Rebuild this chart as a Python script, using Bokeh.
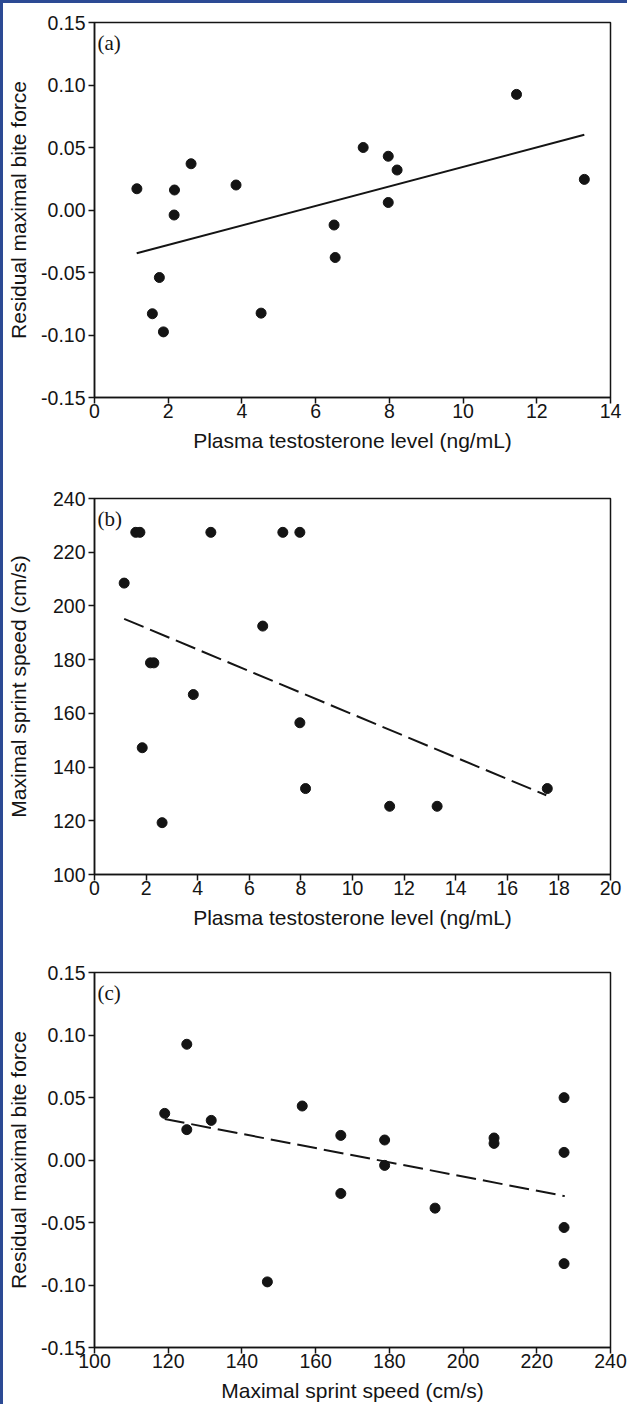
from bokeh.plotting import figure
from bokeh.models import Range1d, FixedTicker, PrintfTickFormatter, Label, Div
from bokeh.layouts import column, row
from bokeh.embed import file_html
from bokeh.resources import INLINE

# ---------------- data ----------------
# (a) residual bite force vs plasma testosterone
testo_a = [1.15, 2.17, 2.62, 3.84, 2.16, 1.76, 1.57, 1.87, 4.52, 6.50, 6.53,
           7.97, 8.21, 7.97, 11.45, 13.29, 7.29]
bite_a = [0.017, 0.016, 0.037, 0.020, -0.004, -0.054, -0.083, -0.0975, -0.0825,
          -0.012, -0.038, 0.043, 0.032, 0.006, 0.0925, 0.0245, 0.050]
fit_a_x = [1.145, 13.29]
fit_a_y = [-0.0346, 0.0602]

# (b) sprint speed vs plasma testosterone
testo_b = [1.60, 1.76, 4.51, 7.30, 7.96, 1.15, 6.52, 2.17, 2.30, 3.83, 7.96,
           1.85, 8.18, 11.44, 13.28, 2.62, 17.55]
speed_b = [227.4, 227.4, 227.4, 227.4, 227.4, 208.5, 192.5, 178.8, 178.8, 167.0,
           156.5, 147.2, 132.0, 125.4, 125.4, 119.3, 132.0]
fit_b_x = [1.15, 17.51]
fit_b_y = [195.2, 129.5]

# (c) residual bite force vs sprint speed
speed_c = [119.05, 125.04, 125.04, 131.67, 156.36, 166.83, 166.83, 178.72, 178.72,
           146.9, 192.4, 208.4, 208.4, 227.4, 227.4, 227.4, 227.4]
bite_c = [0.0373, 0.0926, 0.0243, 0.0317, 0.0432, 0.0197, -0.0268, 0.0160, -0.0043,
          -0.0975, -0.0385, 0.0176, 0.0133, 0.0499, 0.0061, -0.054, -0.0829]
fit_c_x = [119.05, 227.6]
fit_c_y = [0.0328, -0.0289]

# ticks
ticks_testo_a = [0, 2, 4, 6, 8, 10, 12, 14]
ticks_testo_b = [0, 2, 4, 6, 8, 10, 12, 14, 16, 18, 20]
ticks_speed_x = [100, 120, 140, 160, 180, 200, 220, 240]
ticks_speed_y = [100, 120, 140, 160, 180, 200, 220, 240]
ticks_bite = [-0.15, -0.10, -0.05, 0.0, 0.05, 0.10, 0.15]

xlab_testo = "Plasma testosterone level (ng/mL)"
xlab_speed = "Maximal sprint speed (cm/s)"
ylab_bite = "Residual maximal bite force"
ylab_speed = "Maximal sprint speed (cm/s)"

INK = "#141414"
BLUE = "#2c4a94"
FIG_W = 624


def make_panel(xs, ys, fx, fy, dash, xrange, yrange, xticks, yticks, xlab, ylab,
               tag, height, btop, bbot, yfmt=None, ylab_standoff=10):
    p = figure(width=FIG_W, height=height, output_backend="svg", toolbar_location=None,
               x_range=Range1d(*xrange), y_range=Range1d(*yrange),
               min_border_left=86, min_border_right=17,
               min_border_top=btop, min_border_bottom=bbot)
    p.background_fill_color = "white"
    p.border_fill_color = "white"
    p.outline_line_color = INK
    p.outline_line_width = 1.5
    p.xgrid.visible = False
    p.ygrid.visible = False
    p.xaxis.ticker = FixedTicker(ticks=xticks)
    p.yaxis.ticker = FixedTicker(ticks=yticks)
    if yfmt:
        p.yaxis.formatter = PrintfTickFormatter(format=yfmt)
    for ax in p.axis:
        ax.axis_line_color = INK
        ax.axis_line_width = 1.5
        ax.major_tick_line_color = INK
        ax.major_tick_line_width = 1.5
        ax.major_tick_in = 0
        ax.major_tick_out = 6
        ax.minor_tick_line_color = None
        ax.major_label_text_font = "Liberation Sans"
        ax.major_label_text_font_size = "19.5px"
        ax.major_label_text_color = INK
        ax.axis_label_text_font = "Liberation Sans"
        ax.axis_label_text_font_size = "21px"
        ax.axis_label_text_font_style = "normal"
        ax.axis_label_text_color = INK
    p.xaxis.axis_label = xlab
    p.yaxis.axis_label = ylab
    p.xaxis.major_label_standoff = 0
    p.xaxis.axis_label_standoff = 8
    p.yaxis.major_label_standoff = 3
    p.yaxis.axis_label_standoff = ylab_standoff

    p.line(fx, fy, line_width=2, line_color=INK, line_dash=dash)
    p.scatter(xs, ys, size=10, fill_color=INK, line_color=INK)

    p.add_layout(Label(x=xrange[0], y=yrange[1], text=tag, x_offset=3, y_offset=-8,
                       text_baseline="top", text_align="left",
                       text_font="Liberation Serif", text_font_size="21px",
                       text_color=INK))
    return p


pa = make_panel(testo_a, bite_a, fit_a_x, fit_a_y, "solid", (0, 14), (-0.15, 0.15),
                ticks_testo_a, ticks_bite, xlab_testo, ylab_bite, "(a)",
                476, 19, 82, yfmt="%.2f", ylab_standoff=8)
pb = make_panel(testo_b, speed_b, fit_b_x, fit_b_y, "21 7", (0, 20), (100, 240),
                ticks_testo_b, ticks_speed_y, xlab_testo, ylab_speed, "(b)",
                475, 19, 80, ylab_standoff=20)
pc = make_panel(speed_c, bite_c, fit_c_x, fit_c_y, "20 7", (100, 240), (-0.15, 0.15),
                ticks_speed_x, ticks_bite, xlab_speed, ylab_bite, "(c)",
                450, 18, 57, yfmt="%.2f", ylab_standoff=8)

top_bar = Div(text="", width=FIG_W + 3, height=3, margin=0,
              styles={"background-color": BLUE})
left_bar = Div(text="", width=3, height=476 + 475 + 450, margin=0,
               styles={"background-color": BLUE})

layout = column(top_bar, row(left_bar, column(pa, pb, pc, spacing=0), spacing=0),
                spacing=0)

open("out.html", "w").write(file_html(layout, INLINE))
